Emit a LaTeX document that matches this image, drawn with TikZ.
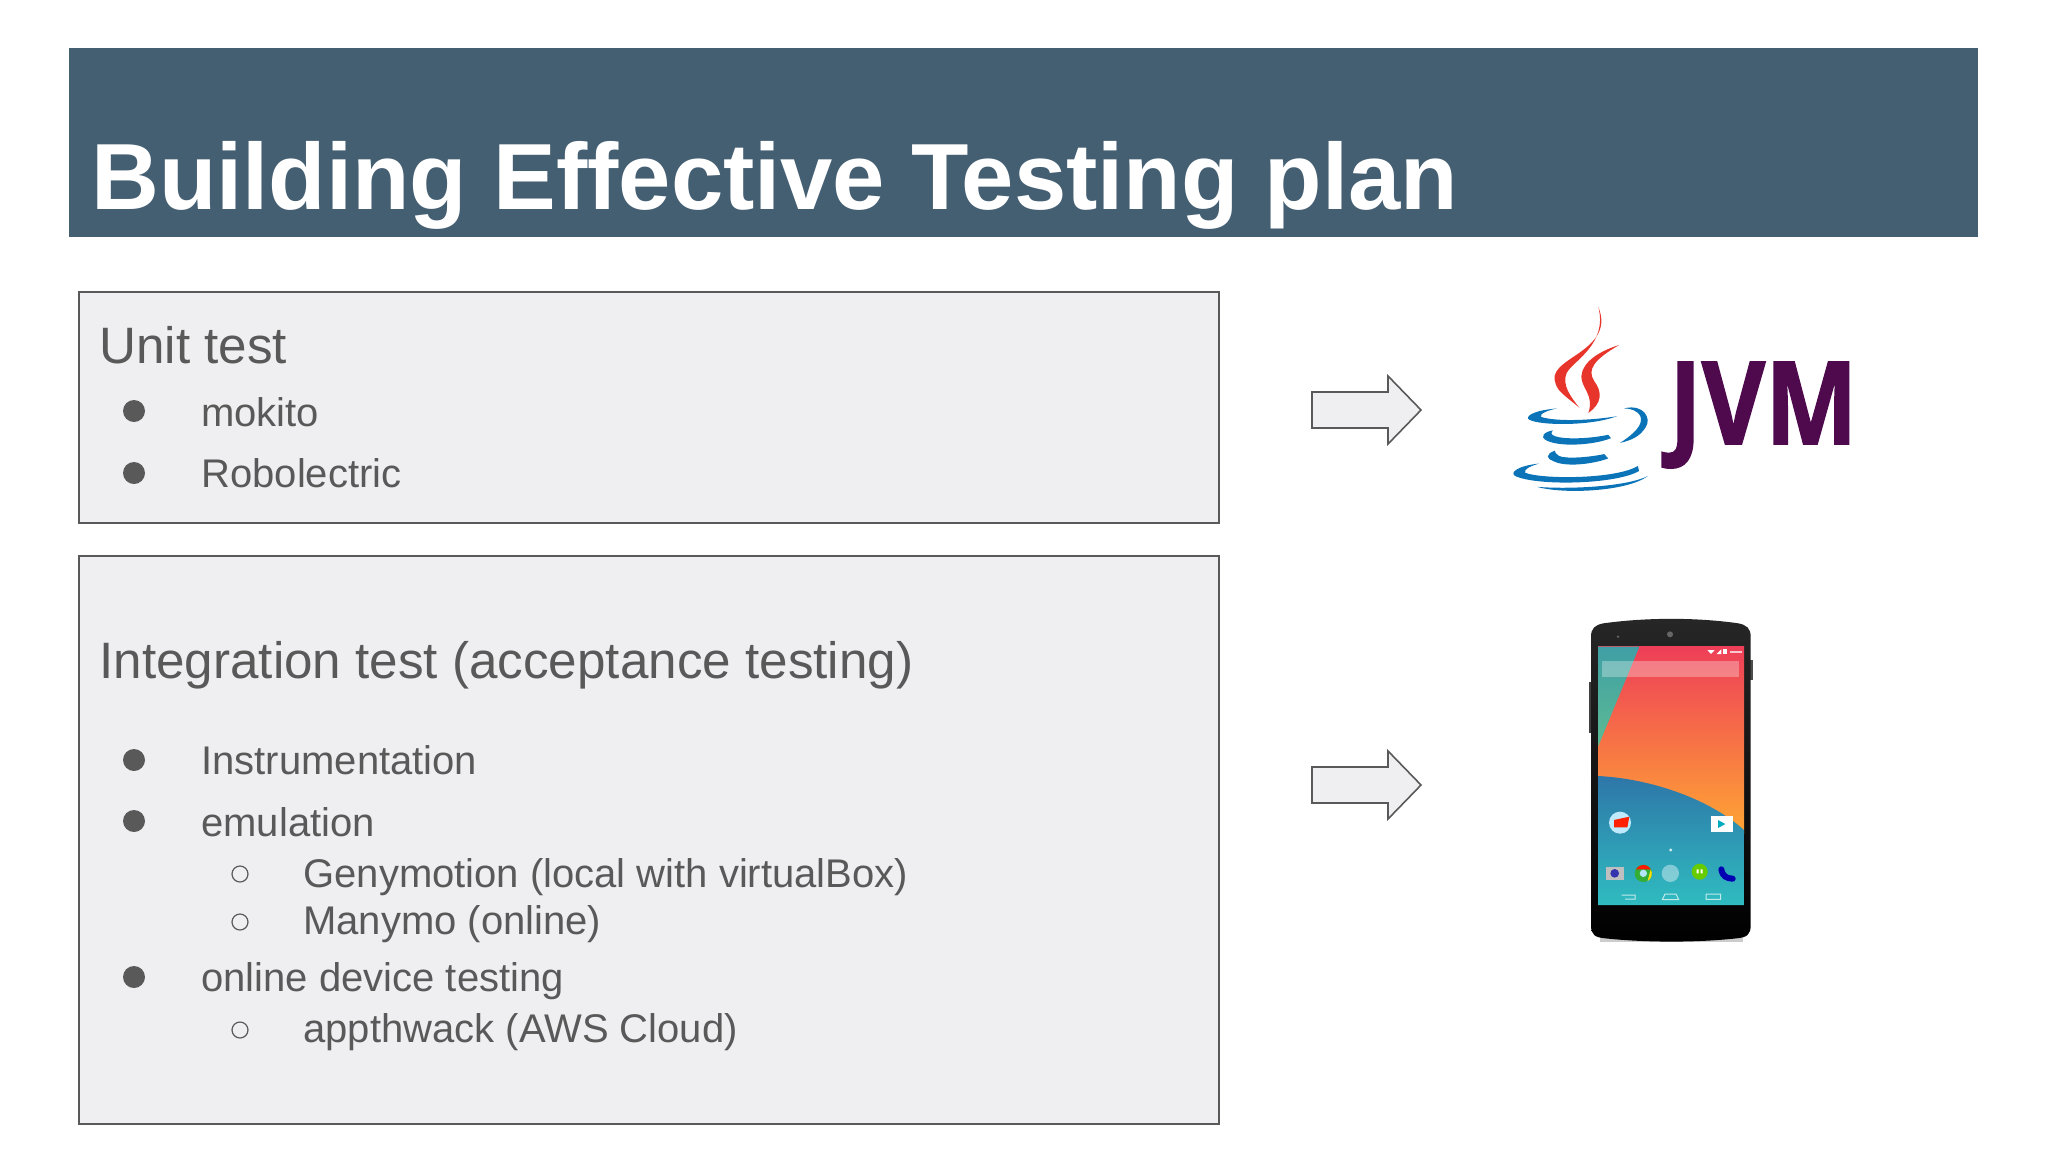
\documentclass[tikz,border=0pt]{standalone}
\usepackage{fontspec}
\setmainfont{Liberation Sans}
\newfontfamily\logofont[BoldFeatures={FakeBold=1.5}]{Open Sans}
\definecolor{bannerblue}{HTML}{445E72}
\definecolor{boxgray}{HTML}{EFEFF1}
\definecolor{inkgray}{HTML}{595959}
\definecolor{flamered}{HTML}{E8352B}
\definecolor{cupblue}{HTML}{0B74B8}
\definecolor{jvmpurple}{HTML}{4F0A4E}
\definecolor{screenred}{HTML}{EE3E58}
\definecolor{screenmid}{HTML}{FF7A50}
\definecolor{screenamber}{HTML}{FFA534}
\definecolor{screenteal}{HTML}{3F9FA5}
\definecolor{screengreen}{HTML}{5DBB92}
\definecolor{screenblue}{HTML}{2E76A8}
\definecolor{screencyan}{HTML}{2FBCC0}
\tikzset{
  panel/.style={draw=inkgray,fill=boxgray,line width=0.8pt},
  heading/.style={anchor=base west,inner sep=0pt,text=inkgray,font=\fontsize{25.6}{30}\selectfont},
  entry/.style={anchor=base west,inner sep=0pt,text=inkgray,font=\fontsize{20}{24}\selectfont},
  blockarrow/.style={draw=inkgray,fill=boxgray,line width=0.8pt,line join=miter}
}
\begin{document}
\begin{tikzpicture}[x=0.5pt,y=-0.5pt]
\useasboundingbox (0,0) rectangle (2048,1152);
\fill[bannerblue] (69,48) rectangle (1978,237);
\node (title) [anchor=base west,inner sep=0pt,text=white,font=\fontsize{47}{56}\selectfont\bfseries] at (91,209) {Building Effective Testing plan};
\draw[panel] (79,292) rectangle (1219,523);
\draw[panel] (79,556) rectangle (1219,1124);
\node (unit) [heading] at (99,363) {Unit test};
\node (mokito) [entry] at (201,426) {mokito};
\node (robo) [entry] at (201,487) {Robolectric};
\node (integ) [heading] at (99,678) {Integration test (acceptance testing)};
\node (instr) [entry] at (201,774) {Instrumentation};
\node (emul) [entry] at (201,836) {emulation};
\node (geny) [entry] at (303,887) {Genymotion (local with virtualBox)};
\node (many) [entry] at (303,934) {Manymo (online)};
\node (online) [entry] at (201,991) {online device testing};
\node (apptw) [entry] at (303,1042) {appthwack (AWS Cloud)};
\foreach \y in {411,473,760,821,977}
  \fill[inkgray] (134,\y) circle [radius=11];
\foreach \y in {874,922,1030}
  \draw[inkgray,line width=0.6pt] (240,\y) circle [radius=8];
\foreach \y in {410,785}
  \draw[blockarrow] (1312,\y-18) -- (1388,\y-18) -- (1388,\y-34) -- (1421,\y) -- (1388,\y+34) -- (1388,\y+18) -- (1312,\y+18) -- cycle;
% java logo
\begin{scope}[shift={(1280,280)},xscale=0.3954,yscale=0.338]
\fill[flamered] (805,80) .. controls (830,150) and (790,190) .. (745,225) .. controls (700,260) and (680,280) .. (705,325) .. controls (720,345) and (740,360) .. (757,378) .. controls (735,345) and (712,310) .. (725,275) .. controls (740,240) and (830,190) .. (805,80);
\fill[flamered] (858,192) .. controls (810,210) and (765,240) .. (762,285) .. controls (762,320) and (795,340) .. (780,393) .. controls (815,365) and (815,330) .. (795,300) .. controls (775,265) and (795,235) .. (858,192);
\fill[cupblue] (700,380) .. controls (650,385) and (625,398) .. (627,410) .. controls (640,430) and (780,435) .. (852,403) .. controls (790,415) and (700,420) .. (660,405) .. controls (655,395) and (680,385) .. (700,380);
\fill[cupblue] (690,445) .. controls (665,450) and (660,465) .. (670,472) .. controls (700,495) and (790,490) .. (837,468) -- (830,458) .. controls (780,470) and (720,472) .. (695,462) .. controls (685,458) and (685,452) .. (690,445);
\fill[cupblue] (695,505) .. controls (670,515) and (675,530) .. (690,535) .. controls (720,555) and (790,545) .. (830,528) -- (820,515) .. controls (780,525) and (720,530) .. (705,520) .. controls (698,515) and (695,510) .. (695,505);
\fill[cupblue] (655,543) .. controls (600,550) and (580,570) .. (595,580) .. controls (650,610) and (850,605) .. (908,565) -- (905,550) .. controls (850,590) and (660,590) .. (620,570) .. controls (615,560) and (635,550) .. (655,543);
\fill[cupblue] (650,612) .. controls (720,635) and (880,625) .. (930,580) .. controls (880,610) and (740,620) .. (650,612);
\fill[cupblue] (870,380) .. controls (920,365) and (940,410) .. (925,435) .. controls (910,465) and (885,475) .. (860,482) .. controls (895,455) and (918,430) .. (912,405) .. controls (905,385) and (885,380) .. (870,380);
\end{scope}
\node (jvm) [anchor=base west,inner sep=0pt,text=jvmpurple,xscale=0.85,font=\fontsize{57.5}{62}\logofont\bfseries] at (1669,444) {JVM};
% phone
\begin{scope}[shift={(1540,600)},scale=1/3]
\fill[black!20] (180,1012) rectangle (610,1026);
\fill[black!75] (148,245) rectangle (160,400);
\fill[black!70] (628,180) rectangle (640,240);
\shade[top color=black!85,bottom color=black] (153,110) .. controls (153,85) and (165,75) .. (190,70) .. controls (320,52) and (470,52) .. (595,70) .. controls (620,75) and (632,85) .. (632,110) -- (632,975) .. controls (632,1005) and (620,1012) .. (590,1015) .. controls (470,1028) and (320,1028) .. (195,1015) .. controls (165,1012) and (153,1005) .. (153,975) -- cycle;
\fill[black!60] (234,110) circle [radius=4];
\fill[black!60] (390,103) circle [radius=9];
\begin{scope}
\clip (174,140) rectangle (612,915);
\shade[top color=screenred,middle color=screenmid,bottom color=screenamber] (174,140) rectangle (612,700);
\shade[top color=screenteal,bottom color=screengreen] (174,140) -- (298,140) -- (174,440) -- cycle;
\shade[top color=screenblue,bottom color=screencyan] (174,528) .. controls (320,535) and (500,590) .. (612,690) -- (612,915) -- (174,915) -- cycle;
\end{scope}
\fill[white,opacity=0.3] (187,183) rectangle (597,232);
\fill[white] (502,150) -- (524,150) -- (513,162) -- cycle;
\fill[white] (530,162) -- (544,148) -- (544,162) -- cycle;
\fill[white] (550,148) rectangle (560,163);
\fill[white,opacity=0.7] (570,152) rectangle (606,160);
\fill[cyan!25!white] (240,668) circle [radius=33];
\fill[red!75!orange] (222,660) -- (268,650) -- (262,682) -- (222,682) -- cycle;
\fill[white] (514,648) rectangle (578,696);
\fill[cyan!70!green] (534,660) -- (556,672) -- (534,684) -- cycle;
\fill[white,opacity=0.8] (392,750) circle [radius=5];
\fill[gray!50] (197,800) rectangle (251,840);
\fill[blue!60!black!80!white] (224,820) circle [radius=13];
\fill[green!60!black!80!white] (310,820) circle [radius=26];
\fill[red!80!orange] (288,808) arc [start angle=210,end angle=330,radius=26] -- cycle;
\fill[yellow!80!orange] (332,808) arc [start angle=-30,end angle=60,radius=26] -- cycle;
\fill[cyan!30!white] (310,820) circle [radius=11];
\fill[white,opacity=0.4] (391,820) circle [radius=26];
\fill[green!50!yellow!80!black] (479,815) circle [radius=24];
\fill[white] (470,808) rectangle (476,820) (482,808) rectangle (488,820);
\draw[blue!70!black,line width=3pt,line cap=round] (544,808) .. controls (548,830) and (560,835) .. (578,836);
\draw[white,opacity=0.7,line width=0.5pt] (245,885) -- (285,885) -- (285,897) -- (255,897) (367,899) -- (375,882) -- (408,882) -- (416,899) -- cycle (498,882) rectangle (542,898);
\end{scope}
\end{tikzpicture}
\end{document}
